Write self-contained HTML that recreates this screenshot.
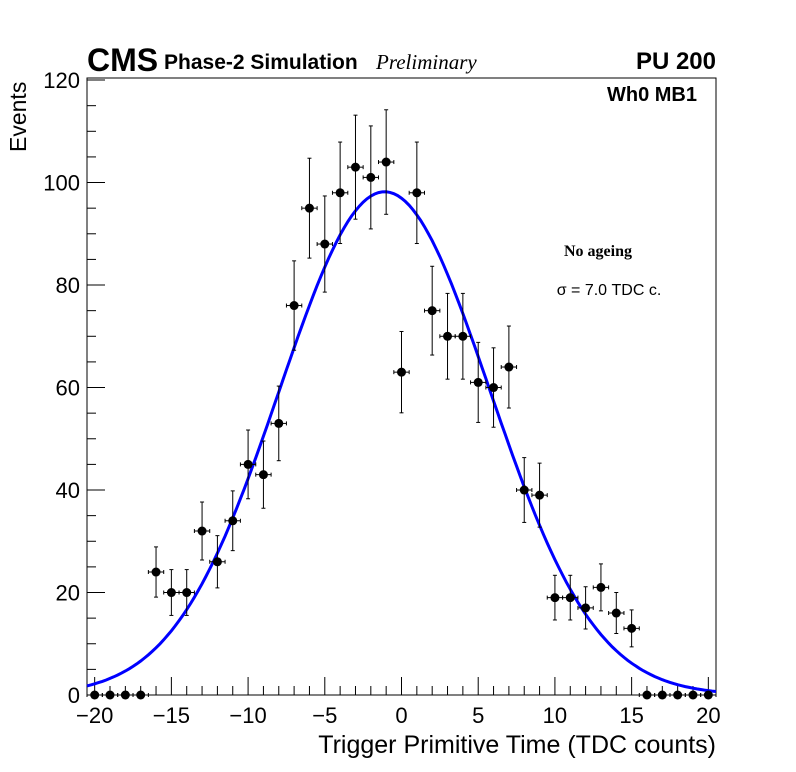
<!DOCTYPE html>
<html><head><meta charset="utf-8"><style>
html,body{margin:0;padding:0;background:#fff;}
svg{display:block;font-family:"Liberation Sans",sans-serif;}
</style></head><body>
<svg id="chart" width="796" height="772" viewBox="0 0 796 772">
<rect x="0" y="0" width="796" height="772" fill="#fff"/>
<rect x="87" y="78" width="629" height="617" fill="none" stroke="#000" stroke-width="1"/>
<g id="axes"></g>
<g id="fit"></g>
<g id="points"></g>
<text x="87" y="71" font-size="32" font-weight="bold">CMS</text>
<text x="164" y="69" font-size="21" font-weight="bold">Phase-2 Simulation</text>
<text x="376" y="69" font-size="21" font-style="italic" font-family="Liberation Serif,serif">Preliminary</text>
<text x="716" y="69" font-size="24" font-weight="bold" text-anchor="end">PU 200</text>
<text x="697" y="101" font-size="20" font-weight="bold" text-anchor="end">Wh0 MB1</text>
<text x="598" y="256" font-size="16" font-weight="bold" font-family="Liberation Serif,serif" text-anchor="middle">No ageing</text>
<text x="609" y="295" font-size="16" text-anchor="middle">σ = 7.0 TDC c.</text>
<text x="716" y="753" font-size="25" text-anchor="end">Trigger Primitive Time (TDC counts)</text>
<text transform="translate(26,152) rotate(-90)" font-size="23">Events</text>
</svg>
<script>
const bins=[-20,-19,-18,-17,-16,-15,-14,-13,-12,-11,-10,-9,-8,-7,-6,-5,-4,-3,-2,-1,0,1,2,3,4,5,6,7,8,9,10,11,12,13,14,15,16,17,18,19,20];
const counts=[0,0,0,0,24,20,20,32,26,34,45,43,53,76,95,88,98,103,101,104,63,98,75,70,70,61,60,64,40,39,19,19,17,21,16,13,0,0,0,0,0];
const fitParams=[98.2,-1.1,6.85];
const xTicks=[-20,-15,-10,-5,0,5,10,15,20];
const yTicks=[0,20,40,60,80,100,120];
const NS="http://www.w3.org/2000/svg";
const L=87,R=716,T=78,B=695;
const X=v=>L+(v+20.5)/41*(R-L);
const Y=v=>B-v/120.4*(B-T);
function mk(tag,attrs,parent){const e=document.createElementNS(NS,tag);for(const k in attrs)e.setAttribute(k,attrs[k]);parent.appendChild(e);return e;}
const ax=document.getElementById('axes');
for(let v=-20;v<=20;v++){
  const big=v%5===0;
  const t=mk('line',{x1:X(v),x2:X(v),y1:B,y2:B-(big?18:9),stroke:'#000','stroke-width':1},ax);
  
  
}
xTicks.forEach(v=>{
  const t=mk('text',{x:X(v),y:723,'font-size':22,'text-anchor':'middle'},ax);
  t.textContent=(v<0?'\u2212'+(-v):String(v));
  
  
});
for(let v=0;v<=120;v+=5){
  const big=v%20===0;
  const t=mk('line',{x1:L,x2:L+(big?18:9),y1:Y(v),y2:Y(v),stroke:'#000','stroke-width':1},ax);
  
  
}
yTicks.forEach(v=>{
  const t=mk('text',{x:80,y:Y(v)+8,'font-size':22,'text-anchor':'end'},ax);
  t.textContent=String(v);
  
  
});
let d='';
for(let x=-20.5;x<=20.5001;x+=0.25){
  const y=fitParams[0]*Math.exp(-Math.pow(x-fitParams[1],2)/(2*fitParams[2]*fitParams[2]));
  d+=(d?'L':'M')+X(x).toFixed(1)+','+Y(y).toFixed(1);
}
const fp=mk('path',{d:d,fill:'none',stroke:'#0000ff','stroke-width':3},document.getElementById('fit'));


const pg=document.getElementById('points');
bins.forEach((b,i)=>{
  const c=counts[i];const e=Math.sqrt(c);
  const g=mk('g',{},pg);
  
  
  mk('line',{x1:X(b-0.5),x2:X(b+0.5),y1:Y(c),y2:Y(c),stroke:'#000','stroke-width':1},g);
  mk('line',{x1:X(b-0.5),x2:X(b-0.5),y1:Y(c)-2,y2:Y(c)+2,stroke:'#000','stroke-width':1},g);
  mk('line',{x1:X(b+0.5),x2:X(b+0.5),y1:Y(c)-2,y2:Y(c)+2,stroke:'#000','stroke-width':1},g);
  if(c>0){
    mk('line',{x1:X(b),x2:X(b),y1:Y(c+e),y2:Y(c-e),stroke:'#000','stroke-width':1},g);
    mk('line',{x1:X(b)-2,x2:X(b)+2,y1:Y(c+e),y2:Y(c+e),stroke:'#000','stroke-width':1},g);
    mk('line',{x1:X(b)-2,x2:X(b)+2,y1:Y(c-e),y2:Y(c-e),stroke:'#000','stroke-width':1},g);
  }
  mk('circle',{cx:X(b),cy:Y(c),r:4.5,fill:'#000'},g);
});
</script>
</body></html>
